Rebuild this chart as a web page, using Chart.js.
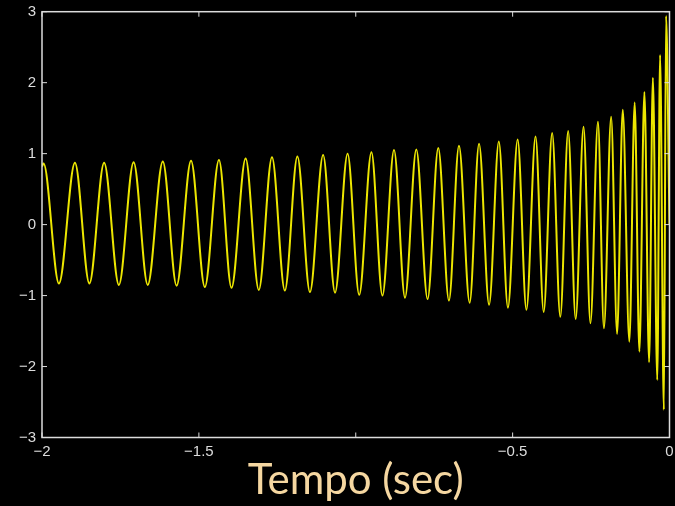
<!DOCTYPE html>
<html>
<head>
<meta charset="utf-8">
<script src="https://cdn.jsdelivr.net/npm/chart.js@4.4.0/dist/chart.umd.min.js"></script>
<style>
  html, body { margin: 0; padding: 0; background: #000; }
  #wrap { width: 675px; height: 506px; }
</style>
</head>
<body>
<div id="wrap"><canvas id="chirpChart" width="675" height="506"></canvas></div>
<script>
// extrema of the chirp (time in sec, amplitude)
const tempo = [
  -2.000, -1.995, -1.946, -1.895, -1.849, -1.802, -1.755, -1.708, -1.663, -1.615, -1.571,
  -1.525, -1.481, -1.436, -1.396, -1.351, -1.309, -1.267, -1.226, -1.186, -1.146,
  -1.104, -1.066, -1.026, -0.989, -0.950, -0.915, -0.878, -0.843, -0.807, -0.771,
  -0.737, -0.703, -0.671, -0.637, -0.607, -0.575, -0.544, -0.515, -0.484, -0.456,
  -0.427, -0.401, -0.374, -0.348, -0.323, -0.299, -0.274, -0.252, -0.228, -0.209,
  -0.186, -0.167, -0.149, -0.128, -0.111, -0.096, -0.080, -0.065, -0.053, -0.039,
  -0.030, -0.018, -0.011, 0.000
];
const strain = [
  0.82, 0.86, -0.83, 0.87, -0.83, 0.87, -0.85, 0.88, -0.85, 0.89, -0.86,
  0.90, -0.88, 0.91, -0.89, 0.93, -0.92, 0.95, -0.93, 0.96, -0.95,
  0.98, -0.96, 1.00, -0.99, 1.02, -1.00, 1.05, -1.03, 1.06, -1.05,
  1.08, -1.07, 1.11, -1.10, 1.14, -1.13, 1.17, -1.17, 1.20, -1.20,
  1.24, -1.23, 1.29, -1.30, 1.32, -1.33, 1.38, -1.39, 1.45, -1.46,
  1.52, -1.54, 1.62, -1.65, 1.72, -1.79, 1.87, -1.94, 2.07, -2.19,
  2.39, -2.61, 2.94, 0.00
];
const xTicks = [-2, -1.5, -1, -0.5, 0];
const xTickLabels = ["\u22122", "\u22121.5", "", "\u22120.5", "0"];
const yTicks = [-3, -2, -1, 0, 1, 2, 3];
const yTickLabels = ["\u22123", "\u22122", "\u22121", "0", "1", "2", "3"];

const axisColor = "#dcdcdc";
const points = tempo.map((t, i) => ({ x: t, y: strain[i] }));

// black background + box round the plot with inward tick marks
const boxPlugin = {
  id: "box",
  beforeDraw(chart) {
    const ctx = chart.ctx;
    ctx.save();
    ctx.fillStyle = "#000";
    ctx.fillRect(0, 0, chart.width, chart.height);
    ctx.restore();
  },
  afterDraw(chart) {
    const { ctx, chartArea: a, scales } = chart;
    ctx.save();
    ctx.strokeStyle = axisColor;
    ctx.lineWidth = 1.5;
    ctx.strokeRect(a.left, a.top, a.right - a.left, a.bottom - a.top);
    ctx.lineWidth = 1;
    const len = 5;
    ctx.beginPath();
    xTicks.forEach((v) => {
      const px = scales.x.getPixelForValue(v);
      ctx.moveTo(px, a.bottom); ctx.lineTo(px, a.bottom - len);
      ctx.moveTo(px, a.top); ctx.lineTo(px, a.top + len);
    });
    yTicks.forEach((v) => {
      const py = scales.y.getPixelForValue(v);
      ctx.moveTo(a.left, py); ctx.lineTo(a.left + len, py);
      ctx.moveTo(a.right, py); ctx.lineTo(a.right - len, py);
    });
    ctx.stroke();
    ctx.restore();
  }
};

const tickFont = { family: "'Liberation Sans', Arial, sans-serif", size: 15 };

new Chart(document.getElementById("chirpChart"), {
  type: "line",
  data: {
    datasets: [{
      data: points,
      borderColor: "#ece600",
      borderWidth: 2,
      pointRadius: 0,
      cubicInterpolationMode: "monotone",
      fill: false
    }]
  },
  options: {
    responsive: false,
    animation: false,
    layout: { padding: { left: 0, right: 5.5, top: 11.7, bottom: 0 } },
    plugins: { legend: { display: false }, tooltip: { enabled: false } },
    scales: {
      x: {
        type: "linear",
        min: -2, max: 0,
        afterFit: (s) => { s.height = 68.5; s.paddingLeft = 0; s.paddingRight = 0; },
        afterBuildTicks: (s) => { s.ticks = xTicks.map((v) => ({ value: v })); },
        ticks: {
          color: axisColor, font: tickFont, padding: 5, maxRotation: 0,
          callback: (v) => xTickLabels[xTicks.indexOf(v)]
        },
        grid: { display: false, drawTicks: false },
        border: { display: false },
        title: {
          display: true,
          text: "Tempo (sec)",
          color: "#f5d7a1",
          font: { family: "Lato, 'Open Sans', sans-serif", size: 42 },
          padding: { top: 0, bottom: 0 }
        }
      },
      y: {
        min: -3, max: 3,
        afterFit: (s) => { s.width = 42; s.paddingTop = 0; s.paddingBottom = 0; },
        afterBuildTicks: (s) => { s.ticks = yTicks.map((v) => ({ value: v })); },
        ticks: {
          color: axisColor, font: tickFont, padding: 6,
          callback: (v) => yTickLabels[yTicks.indexOf(v)]
        },
        grid: { display: false, drawTicks: false },
        border: { display: false }
      }
    }
  },
  plugins: [boxPlugin]
});
</script>
</body>
</html>
